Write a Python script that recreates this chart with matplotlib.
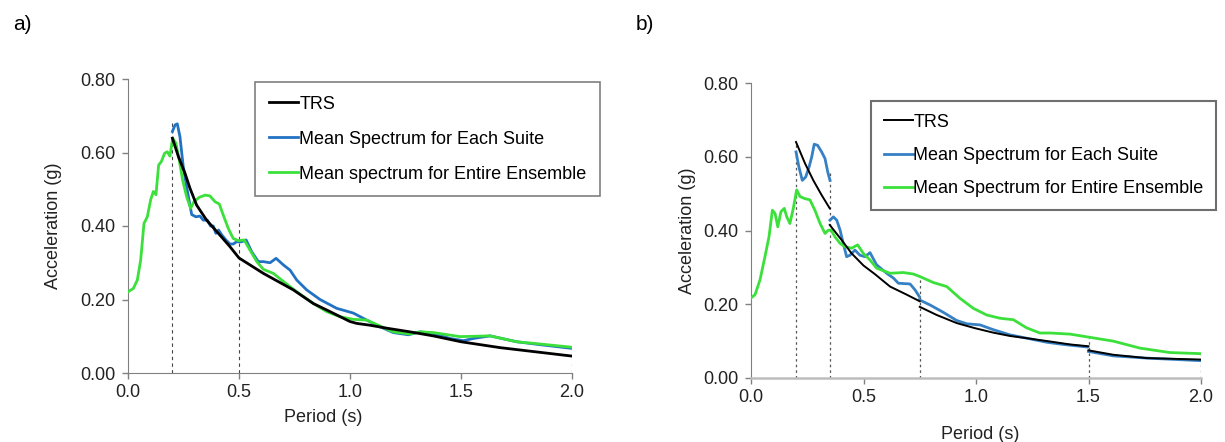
import numpy as np
import matplotlib
matplotlib.use('Agg')
import matplotlib.pyplot as plt
from matplotlib.lines import Line2D
from matplotlib.ticker import FormatStrFormatter

plt.rcParams['font.family'] = ['Liberation Sans', 'DejaVu Sans']

# ---- panel a) spectra ----
T_trs_a = [0.20, 0.227, 0.257, 0.279, 0.309, 0.354, 0.407, 0.459, 0.50, 0.61, 0.745,
           0.835, 0.91, 1.00, 1.03, 1.09, 1.165, 1.27, 1.375, 1.50, 1.676, 2.00]
Sa_trs_a = [0.639, 0.589, 0.543, 0.503, 0.457, 0.416, 0.380, 0.344, 0.313, 0.271, 0.226,
            0.189, 0.167, 0.140, 0.135, 0.130, 0.122, 0.112, 0.101, 0.085, 0.069, 0.046]

T_suite_a = [0.200, 0.212, 0.222, 0.234, 0.249, 0.264, 0.279, 0.287, 0.306, 0.324, 0.339,
             0.357, 0.372, 0.384, 0.396, 0.408, 0.422, 0.441, 0.459, 0.474, 0.489, 0.511,
             0.532, 0.557, 0.587, 0.610, 0.640, 0.667, 0.700, 0.730, 0.760, 0.805, 0.865,
             0.940, 1.015, 1.075, 1.135, 1.195, 1.263, 1.315, 1.375, 1.450, 1.511, 1.556,
             1.631, 1.751, 1.871, 2.0]
Sa_suite_a = [0.657, 0.675, 0.678, 0.643, 0.561, 0.507, 0.457, 0.431, 0.425, 0.427, 0.416,
              0.416, 0.400, 0.400, 0.380, 0.389, 0.376, 0.362, 0.351, 0.351, 0.357, 0.357,
              0.362, 0.330, 0.303, 0.303, 0.300, 0.312, 0.294, 0.280, 0.253, 0.226, 0.200,
              0.176, 0.163, 0.144, 0.126, 0.110, 0.104, 0.112, 0.108, 0.094, 0.088, 0.094,
              0.101, 0.085, 0.076, 0.067]

T_ens_a = [0.0, 0.024, 0.042, 0.057, 0.072, 0.087, 0.102, 0.114, 0.126, 0.138, 0.150, 0.165,
           0.177, 0.189, 0.201, 0.216, 0.231, 0.246, 0.264, 0.282, 0.297, 0.321, 0.347, 0.369,
           0.392, 0.411, 0.429, 0.452, 0.474, 0.497, 0.523, 0.549, 0.580, 0.610, 0.655, 0.700,
           0.760, 0.835, 0.895, 0.955, 1.015, 1.075, 1.135, 1.195, 1.270, 1.315, 1.375, 1.495,
           1.631, 1.751, 1.871, 2.0]
Sa_ens_a = [0.221, 0.230, 0.253, 0.307, 0.407, 0.425, 0.471, 0.494, 0.485, 0.566, 0.575, 0.598,
            0.602, 0.590, 0.639, 0.625, 0.579, 0.525, 0.480, 0.448, 0.466, 0.478, 0.484, 0.482,
            0.466, 0.460, 0.430, 0.393, 0.366, 0.360, 0.362, 0.335, 0.303, 0.282, 0.271, 0.249,
            0.221, 0.189, 0.167, 0.153, 0.146, 0.144, 0.128, 0.112, 0.106, 0.112, 0.110, 0.099,
            0.101, 0.085, 0.078, 0.070]

# period bounds of the suites and height of their marker lines
T_bounds_a = [0.2, 0.5, 2.0]
top_bounds_a = [0.684, 0.412, 0.070]

# ---- panel b) spectra, split at the suite bounds ----
T_trs_b = [[0.20, 0.24, 0.277, 0.314, 0.35],
           [0.35, 0.403, 0.447, 0.50, 0.55, 0.618, 0.692, 0.75],
           [0.75, 0.825, 0.914, 0.996, 1.077, 1.151, 1.225, 1.329, 1.418, 1.50],
           [1.50, 1.61, 1.758, 2.0]]
Sa_trs_b = [[0.640, 0.582, 0.536, 0.496, 0.460],
            [0.415, 0.374, 0.338, 0.305, 0.282, 0.248, 0.226, 0.208],
            [0.193, 0.171, 0.149, 0.135, 0.123, 0.114, 0.108, 0.099, 0.091, 0.086],
            [0.075, 0.063, 0.054, 0.050]]

T_suite_b = [[0.2, 0.213, 0.228, 0.243, 0.258, 0.270, 0.281, 0.296, 0.314, 0.329, 0.341, 0.351],
             [0.351, 0.366, 0.381, 0.396, 0.410, 0.425, 0.440, 0.462, 0.484, 0.507, 0.529,
              0.558, 0.603, 0.633, 0.655, 0.707, 0.729, 0.748],
             [0.748, 0.796, 0.855, 0.914, 0.959, 1.018, 1.077, 1.151, 1.225, 1.314, 1.388, 1.495],
             [1.50, 1.61, 1.758, 2.0]]
Sa_suite_b = [[0.613, 0.572, 0.536, 0.545, 0.572, 0.600, 0.634, 0.631, 0.613, 0.595, 0.559, 0.536],
              [0.428, 0.437, 0.428, 0.401, 0.365, 0.329, 0.333, 0.347, 0.333, 0.329, 0.340,
               0.307, 0.284, 0.271, 0.257, 0.255, 0.239, 0.221],
              [0.212, 0.198, 0.178, 0.156, 0.147, 0.144, 0.131, 0.117, 0.108, 0.097, 0.091, 0.084],
              [0.072, 0.060, 0.054, 0.047]]

T_ens_b = [0.0, 0.018, 0.040, 0.062, 0.080, 0.095, 0.107, 0.119, 0.133, 0.148, 0.159, 0.173,
           0.188, 0.203, 0.218, 0.237, 0.262, 0.284, 0.307, 0.329, 0.344, 0.356, 0.373, 0.396,
           0.418, 0.447, 0.474, 0.499, 0.529, 0.558, 0.618, 0.677, 0.721, 0.751, 0.810, 0.870,
           0.929, 0.988, 1.047, 1.107, 1.166, 1.225, 1.284, 1.329, 1.418, 1.499, 1.610, 1.729,
           1.862, 2.0]
Sa_ens_b = [0.217, 0.226, 0.266, 0.329, 0.383, 0.455, 0.446, 0.410, 0.451, 0.460, 0.437, 0.419,
            0.460, 0.510, 0.492, 0.487, 0.483, 0.455, 0.419, 0.392, 0.401, 0.401, 0.383, 0.365,
            0.356, 0.352, 0.361, 0.338, 0.320, 0.298, 0.284, 0.286, 0.282, 0.275, 0.259, 0.248,
            0.216, 0.189, 0.171, 0.162, 0.158, 0.136, 0.122, 0.122, 0.119, 0.111, 0.100, 0.081,
            0.069, 0.066]

T_bounds_b = [0.2, 0.35, 0.75, 1.5, 2.0]
top_bounds_b = [0.640, 0.559, 0.275, 0.108, 0.068]

labels_a = ['TRS', 'Mean Spectrum for Each Suite', 'Mean spectrum for Entire Ensemble']
labels_b = ['TRS', 'Mean Spectrum for Each Suite', 'Mean Spectrum for Entire Ensemble']

BLUE = '#2272c3'
GREEN = '#3be03b'
FS = 13


def style_axes(ax, xcol):
    ax.set_xlim(0, 2.0)
    ax.set_ylim(0, 0.8)
    ax.set_xticks([0.0, 0.5, 1.0, 1.5, 2.0])
    ax.set_yticks([0.0, 0.2, 0.4, 0.6, 0.8])
    ax.xaxis.set_major_formatter(FormatStrFormatter('%.1f'))
    ax.yaxis.set_major_formatter(FormatStrFormatter('%.2f'))
    for s in ['top', 'right']:
        ax.spines[s].set_visible(False)
    ax.spines['left'].set_color('#808080')
    ax.spines['bottom'].set_color(xcol)
    ax.tick_params(axis='both', direction='out', length=4, width=1,
                   color='#808080', labelsize=FS, labelcolor='#222222')
    ax.tick_params(axis='y', pad=5)
    ax.tick_params(axis='x', pad=4)


fig = plt.figure(figsize=(12.25, 4.42), dpi=100)

# panel a
ax1 = fig.add_axes([128/1225, 69/442, 444/1225, 294/442])
style_axes(ax1, '#808080')
ax1.vlines(T_bounds_a, 0, top_bounds_a, colors='#444444', linestyles=(0, (3, 3)), lw=0.8)
ax1.plot(T_trs_a, Sa_trs_a, color='black', lw=2.0, label=labels_a[0], zorder=4)
ax1.plot(T_suite_a, Sa_suite_a, color=BLUE, lw=2.0, label=labels_a[1], zorder=3)
ax1.plot(T_ens_a, Sa_ens_a, color=GREEN, lw=2.0, label=labels_a[2], zorder=3)
leg = ax1.legend(loc='upper left', bbox_to_anchor=(255/1225, 1 - 82/442),
                 bbox_transform=fig.transFigure, borderaxespad=0, fontsize=FS,
                 handlelength=1.65, handletextpad=0.05, labelspacing=1.0,
                 borderpad=0.75, fancybox=False, framealpha=1)
leg.get_frame().set_edgecolor('#7f7f7f')
leg.get_frame().set_linewidth(1.2)
ax1.text(-0.167, 0.5, 'Acceleration (g)', transform=ax1.transAxes, rotation=90,
         ha='center', va='center', fontsize=FS, color='#222222')
ax1.text(0.439, -0.150, 'Period (s)', transform=ax1.transAxes,
         ha='center', va='center', fontsize=FS, color='#222222')
fig.text(22/1225, 1 - 24/442, 'a)', ha='center', va='center', fontsize=15)

# panel b
ax2 = fig.add_axes([751/1225, 64/442, 450/1225, 295/442])
style_axes(ax2, '#bdbdbd')
ax2.spines['bottom'].set_linewidth(1.8)
ax2.vlines(T_bounds_b, 0, top_bounds_b, colors='#555555', linestyles=(0, (2, 2.5)), lw=0.9)
for T, Sa in zip(T_trs_b, Sa_trs_b):
    ax2.plot(T, Sa, color='black', lw=1.4, zorder=4)
for T, Sa in zip(T_suite_b, Sa_suite_b):
    ax2.plot(T, Sa, color='#3680c4', lw=2.0, zorder=3)
ax2.plot(T_ens_b, Sa_ens_b, color=GREEN, lw=2.0, zorder=3)
handles_b = [Line2D([], [], color='black', lw=1.4),
             Line2D([], [], color='#3680c4', lw=2.0),
             Line2D([], [], color=GREEN, lw=2.0)]
leg = ax2.legend(handles_b, labels_b, loc='upper left',
                 bbox_to_anchor=(871/1225, 1 - 101/442), bbox_transform=fig.transFigure,
                 borderaxespad=0, fontsize=FS, handlelength=1.6, handletextpad=0.05,
                 labelspacing=0.9, borderpad=0.7, fancybox=False, framealpha=1)
leg.get_frame().set_edgecolor('#6f6f6f')
leg.get_frame().set_linewidth(1.5)
ax2.text(-0.142, 0.5, 'Acceleration (g)', transform=ax2.transAxes, rotation=90,
         ha='center', va='center', fontsize=FS, color='#222222')
ax2.text(0.509, -0.193, 'Period (s)', transform=ax2.transAxes,
         ha='center', va='center', fontsize=FS, color='#222222')
fig.text(645/1225, 1 - 24/442, 'b)', ha='center', va='center', fontsize=15)

fig.savefig('out.png', dpi=100)
